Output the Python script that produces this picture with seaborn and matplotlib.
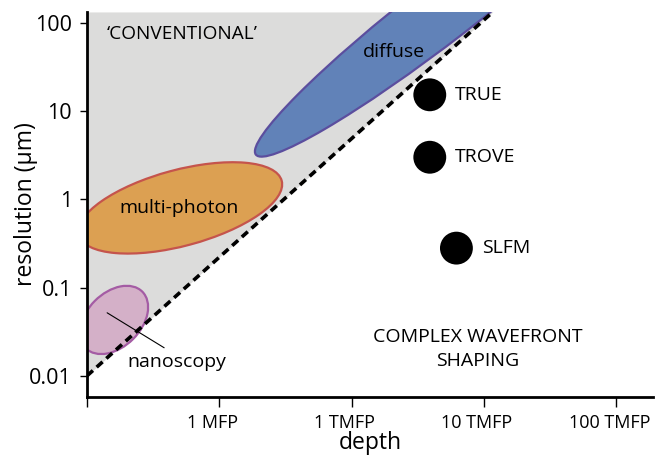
import numpy as np
import pandas as pd
import matplotlib.pyplot as plt
import matplotlib.transforms as mtransforms
from matplotlib.patches import Ellipse
import seaborn as sns

# axis ticks (depth axis is in decades, labels from the figure)
x_ticks = [0.1, 1, 10, 100, 1000]
x_tick_labels = ['', '1 MFP', '1 TMFP', '10 TMFP', '100 TMFP']
y_ticks = [0.01, 0.1, 1, 10, 100]
y_tick_labels = ['0.01', '0.1', '1', '10', '100']

# boundary of the 'conventional' region (dashed line)
bound_x = [0.1, 117]
bound_y = [0.01, 133]

# wavefront shaping techniques
methods = ['TRUE', 'TROVE', 'SLFM']
method_depth = [39, 39, 62]
method_res = [15.3, 3.0, 0.28]

# regions drawn as ellipses: name, centre, size (in), angle, fill, edge
regions = ['multi-photon', 'diffuse', 'nanoscopy']
region_cx = [0.507, 51.5, 0.16]
region_cy = [0.80, 148, 0.043]
region_w = [2.1, 4.8, 0.80]
region_h = [0.76, 0.62, 0.54]
region_ang = [15, 37.7, 45]
region_fill = ['#dca052', '#6182b8', '#d4b0c8']
region_edge = ['#c5544c', '#5b4e9e', '#a45ca4']
label_x = [0.497, 20.8, 0.48]
label_y = [0.80, 46.9, 0.0144]

sns.set_style('ticks')
plt.rcParams['font.family'] = ['Open Sans', 'DejaVu Sans']
plt.rcParams['text.color'] = 'black'
plt.rcParams['axes.labelcolor'] = 'black'
plt.rcParams['xtick.color'] = 'black'
plt.rcParams['ytick.color'] = 'black'

fig = plt.figure(figsize=(6.59, 4.59), dpi=100)
ax = fig.add_axes([0.132, 0.135, 0.859, 0.839])
ax.set_xscale('log')
ax.set_yscale('log')
ax.set_xlim(0.1, 1900)
ax.set_ylim(0.00575, 133)

# grey 'conventional' area
ax.fill_between(bound_x, bound_y, [133, 133], color='#dcdcdb', lw=0, zorder=0)

for i, name in enumerate(regions):
    tr = fig.dpi_scale_trans + mtransforms.ScaledTranslation(region_cx[i], region_cy[i], ax.transData)
    e = Ellipse((0, 0), region_w[i], region_h[i], angle=region_ang[i], transform=tr,
                facecolor=region_fill[i], edgecolor=region_edge[i], lw=1.6, zorder=1)
    e.set_clip_path(ax.patch)
    ax.add_patch(e)
    ax.text(label_x[i], label_y[i], name, ha='center', va='center', fontsize=14, zorder=4)

# leader line for nanoscopy
ax.plot([0.142, 0.383], [0.0518, 0.0208], color='black', lw=0.8, zorder=4)

bd = pd.DataFrame({'x': bound_x, 'y': bound_y})
sns.lineplot(data=bd, x='x', y='y', ax=ax, color='black', lw=2.6,
             dashes=False, zorder=3).lines[-1].set_dashes((2.2, 1.4))

md = pd.DataFrame({'depth': method_depth, 'res': method_res, 'name': methods})
sns.scatterplot(data=md, x='depth', y='res', ax=ax, color='black', s=560,
                edgecolor='none', zorder=5)
for d, r, n in zip(method_depth, method_res, methods):
    ax.text(d * 1.55, r, n, ha='left', va='center', fontsize=14)

ax.text(0.142, 75, "\u2018CONVENTIONAL\u2019", ha='left', va='center', fontsize=13.7)
ax.text(90, 0.0202, 'COMPLEX WAVEFRONT\nSHAPING', ha='center', va='center',
        fontsize=14, linespacing=1.4)

ax.set_xticks(x_ticks)
ax.set_xticklabels(x_tick_labels, fontsize=13)
ax.set_yticks(y_ticks)
ax.set_yticklabels(y_tick_labels, fontsize=15.5)
ax.minorticks_off()
ax.tick_params(axis='x', length=7, width=1, pad=5)
ax.tick_params(axis='y', length=5, width=1, pad=5.8)
# tick labels on the depth axis sit a little left of their ticks
shift = mtransforms.ScaledTranslation(-0.07, 0, fig.dpi_scale_trans)
for lab in ax.get_xticklabels():
    lab.set_transform(lab.get_transform() + shift)
ax.set_xlabel('depth', fontsize=16.5)
ax.set_ylabel('resolution (\u00b5m)', fontsize=16.5)
ax.xaxis.set_label_coords(0.5, -0.088)
ax.yaxis.set_label_coords(-0.087, 0.5)
for s in ['top', 'right']:
    ax.spines[s].set_visible(False)
for s in ['left', 'bottom']:
    ax.spines[s].set_linewidth(2)
    ax.spines[s].set_color('black')

fig.savefig('out.png', dpi=100)
